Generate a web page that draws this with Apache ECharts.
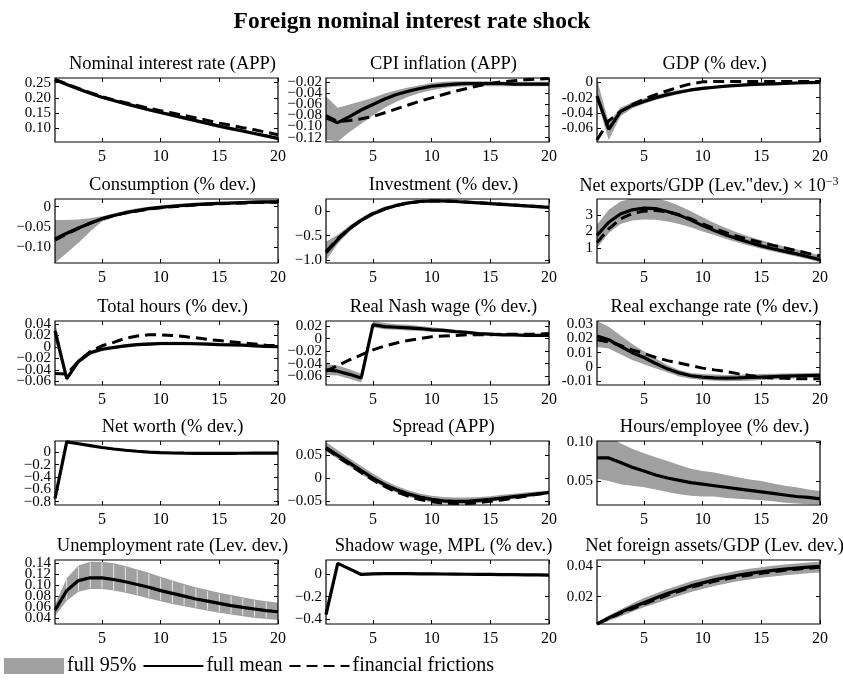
<!DOCTYPE html>
<html><head><meta charset="utf-8">
<script src="https://cdn.jsdelivr.net/npm/echarts@6/dist/echarts.min.js"></script>
<style>html,body{margin:0;padding:0;background:#fff}#chart{width:843px;height:681px}</style>
</head><body><div id="chart"></div>
<script>
// Horizon (quarters)
const periods = [1,2,3,4,5,6,7,8,9,10,11,12,13,14,15,16,17,18,19,20];
const xTicks = [5,10,15,20];

// Nominal interest rate (APP)
const nomRateMean = [0.260,0.244,0.229,0.215,0.202,0.191,0.181,0.171,0.161,0.152,0.143,0.134,0.125,0.116,0.107,0.099,0.091,0.083,0.075,0.067];
const nomRateFF   = [0.260,0.245,0.231,0.217,0.204,0.193,0.184,0.175,0.166,0.158,0.150,0.142,0.134,0.126,0.117,0.110,0.102,0.095,0.087,0.079];
const nomRateLo   = [0.257,0.240,0.224,0.210,0.197,0.186,0.175,0.165,0.155,0.146,0.137,0.128,0.119,0.110,0.101,0.093,0.085,0.077,0.069,0.061];
const nomRateHi   = [0.263,0.247,0.232,0.218,0.205,0.194,0.184,0.174,0.164,0.155,0.146,0.137,0.128,0.119,0.110,0.102,0.094,0.086,0.078,0.071];
const nomRateTicks = [0.10,0.15,0.20,0.25];

// CPI inflation (APP)
const cpiMean = [-0.084,-0.093,-0.082,-0.070,-0.060,-0.050,-0.042,-0.036,-0.031,-0.027,-0.025,-0.023,-0.022,-0.022,-0.022,-0.022,-0.023,-0.023,-0.023,-0.023];
const cpiFF   = [-0.080,-0.091,-0.089,-0.086,-0.082,-0.075,-0.068,-0.061,-0.054,-0.048,-0.042,-0.036,-0.031,-0.026,-0.022,-0.019,-0.017,-0.015,-0.014,-0.013];
const cpiLo   = [-0.124,-0.127,-0.110,-0.095,-0.080,-0.066,-0.055,-0.046,-0.039,-0.034,-0.030,-0.028,-0.027,-0.027,-0.027,-0.027,-0.027,-0.027,-0.027,-0.027];
const cpiHi   = [-0.045,-0.066,-0.060,-0.054,-0.048,-0.040,-0.034,-0.029,-0.025,-0.021,-0.019,-0.018,-0.018,-0.018,-0.018,-0.019,-0.019,-0.019,-0.019,-0.019];
const cpiTicks = [-0.12,-0.10,-0.08,-0.06,-0.04,-0.02];

// GDP (% dev.)
const gdpMean = [-0.018,-0.061,-0.038,-0.030,-0.025,-0.020,-0.016,-0.013,-0.010,-0.008,-0.0065,-0.005,-0.004,-0.003,-0.0025,-0.002,-0.0015,-0.001,-0.0006,-0.0003];
const gdpFF   = [-0.075,-0.050,-0.038,-0.029,-0.022,-0.016,-0.011,-0.006,-0.002,0.0005,0.001,0.001,0.001,0.001,0.001,0.001,0.001,0.001,0.001,0.001];
const gdpLo   = [-0.024,-0.075,-0.044,-0.034,-0.028,-0.023,-0.019,-0.015,-0.012,-0.010,-0.008,-0.0065,-0.0052,-0.0042,-0.0035,-0.0029,-0.0024,-0.002,-0.0016,-0.0013];
const gdpHi   = [0.004,-0.052,-0.033,-0.026,-0.021,-0.017,-0.013,-0.010,-0.008,-0.006,-0.0048,-0.0036,-0.0027,-0.002,-0.0015,-0.001,-0.0006,-0.0003,0.0,0.0003];
const gdpTicks = [-0.06,-0.04,-0.02,0];

// Consumption (% dev.)
const consMean = [-0.080,-0.066,-0.053,-0.041,-0.030,-0.022,-0.015,-0.010,-0.005,-0.002,0.001,0.003,0.005,0.007,0.008,0.009,0.010,0.011,0.012,0.012];
const consFF   = [-0.083,-0.068,-0.054,-0.041,-0.030,-0.022,-0.016,-0.011,-0.006,-0.003,0.000,0.002,0.004,0.006,0.007,0.008,0.009,0.010,0.011,0.011];
const consLo   = [-0.140,-0.115,-0.090,-0.062,-0.037,-0.027,-0.019,-0.013,-0.008,-0.005,-0.002,0.000,0.002,0.003,0.004,0.005,0.006,0.007,0.007,0.008];
const consHi   = [-0.033,-0.033,-0.032,-0.029,-0.024,-0.017,-0.010,-0.004,0.000,0.003,0.006,0.008,0.010,0.011,0.012,0.013,0.014,0.015,0.015,0.016];
const consTicks = [-0.10,-0.05,0];

// Investment (% dev.)
const invMean = [-0.84,-0.58,-0.36,-0.19,-0.06,0.04,0.11,0.16,0.19,0.20,0.20,0.19,0.175,0.16,0.145,0.13,0.115,0.10,0.085,0.07];
const invFF   = [-0.82,-0.56,-0.35,-0.18,-0.05,0.04,0.11,0.16,0.19,0.20,0.20,0.195,0.18,0.165,0.15,0.135,0.12,0.105,0.09,0.075];
const invLo   = [-1.00,-0.66,-0.41,-0.23,-0.10,0.00,0.08,0.13,0.16,0.17,0.17,0.165,0.15,0.14,0.125,0.11,0.095,0.08,0.065,0.05];
const invHi   = [-0.62,-0.48,-0.30,-0.14,-0.01,0.09,0.15,0.20,0.22,0.23,0.225,0.215,0.20,0.185,0.17,0.155,0.14,0.125,0.11,0.095];
const invTicks = [-1.0,-0.5,0];

// Net exports/GDP (level dev., x 10^-3)
const nxMean = [1.76,2.55,3.05,3.30,3.40,3.37,3.20,2.98,2.68,2.35,2.05,1.78,1.55,1.33,1.13,0.96,0.80,0.65,0.48,0.30];
const nxFF   = [1.33,2.15,2.75,3.08,3.22,3.26,3.18,3.00,2.75,2.45,2.17,1.92,1.70,1.50,1.33,1.16,1.00,0.84,0.68,0.53];
const nxLo   = [1.00,1.90,2.45,2.65,2.72,2.70,2.60,2.45,2.25,2.00,1.78,1.55,1.34,1.14,0.95,0.79,0.64,0.49,0.33,0.15];
const nxHi   = [2.40,3.30,3.80,4.00,4.05,4.00,3.82,3.55,3.22,2.85,2.50,2.20,1.92,1.68,1.47,1.28,1.10,0.93,0.75,0.55];
const nxTicks = [1,2,3];

// Total hours (% dev.)
const hoursMean = [0.028,-0.055,-0.025,-0.010,-0.004,-0.001,0.002,0.004,0.005,0.006,0.006,0.006,0.0055,0.005,0.004,0.0035,0.003,0.002,0.001,0.0005];
const hoursFF   = [-0.046,-0.047,-0.025,-0.008,0.002,0.008,0.015,0.019,0.021,0.021,0.020,0.018,0.016,0.013,0.011,0.009,0.007,0.005,0.003,0.002];
const hoursLo   = [0.012,-0.060,-0.029,-0.014,-0.007,-0.004,-0.001,0.001,0.002,0.003,0.003,0.003,0.003,0.0025,0.002,0.0015,0.001,0.0,-0.001,-0.0015];
const hoursHi   = [0.045,-0.050,-0.021,-0.006,-0.001,0.002,0.005,0.007,0.008,0.009,0.009,0.009,0.008,0.0075,0.007,0.006,0.005,0.004,0.003,0.0025];
const hoursTicks = [-0.06,-0.04,-0.02,0,0.02,0.04];

// Real Nash wage (% dev.)
const wageMean = [-0.050,-0.052,-0.057,-0.063,0.022,0.019,0.018,0.017,0.016,0.014,0.013,0.011,0.010,0.008,0.007,0.006,0.006,0.005,0.005,0.005];
const wageFF   = [-0.052,-0.043,-0.034,-0.026,-0.018,-0.012,-0.007,-0.003,0.000,0.003,0.004,0.005,0.006,0.006,0.006,0.007,0.007,0.007,0.007,0.008];
const wageLo   = [-0.058,-0.059,-0.064,-0.070,0.018,0.015,0.014,0.013,0.012,0.011,0.010,0.009,0.008,0.006,0.005,0.004,0.004,0.003,0.003,0.003];
const wageHi   = [-0.040,-0.043,-0.049,-0.056,0.028,0.025,0.023,0.022,0.020,0.018,0.016,0.014,0.012,0.010,0.009,0.008,0.008,0.007,0.007,0.007];
const wageTicks = [-0.06,-0.04,-0.02,0,0.02];

// Real exchange rate (% dev.)
const rerMean = [0.0215,0.019,0.0145,0.010,0.0067,0.0025,-0.0012,-0.0040,-0.0060,-0.0069,-0.0074,-0.0076,-0.0075,-0.0072,-0.0069,-0.0066,-0.0063,-0.0060,-0.0058,-0.0057];
const rerFF   = [0.019,0.0175,0.015,0.012,0.0095,0.0068,0.0045,0.0029,0.001,-0.0007,-0.0019,-0.003,-0.0045,-0.0058,-0.007,-0.0075,-0.0078,-0.008,-0.0081,-0.0081];
const rerLo   = [0.014,0.013,0.009,0.005,0.002,-0.001,-0.0035,-0.0065,-0.008,-0.009,-0.0095,-0.0098,-0.0097,-0.0094,-0.009,-0.0086,-0.0082,-0.0078,-0.0075,-0.0072];
const rerHi   = [0.032,0.028,0.022,0.016,0.011,0.006,0.0015,-0.002,-0.004,-0.0048,-0.0052,-0.0054,-0.0053,-0.005,-0.0048,-0.0046,-0.0044,-0.0042,-0.004,-0.0039];
const rerTicks = [-0.01,0,0.01,0.02,0.03];

// Net worth (% dev.)
const nwMean = [-0.75,0.17,0.14,0.11,0.08,0.055,0.035,0.018,0.005,-0.005,-0.010,-0.013,-0.015,-0.016,-0.016,-0.015,-0.014,-0.013,-0.012,-0.011];
const nwLo   = [-0.76,0.16,0.13,0.10,0.07,0.046,0.027,0.011,-0.002,-0.011,-0.016,-0.019,-0.021,-0.022,-0.022,-0.021,-0.020,-0.019,-0.018,-0.017];
const nwHi   = [-0.74,0.18,0.15,0.12,0.09,0.064,0.043,0.025,0.012,0.001,-0.004,-0.007,-0.009,-0.010,-0.010,-0.009,-0.008,-0.007,-0.006,-0.005];
const nwTicks = [-0.8,-0.6,-0.4,-0.2,0];

// Spread (APP)
const sprMean = [0.066,0.049,0.033,0.016,0.000,-0.014,-0.025,-0.034,-0.041,-0.046,-0.049,-0.050,-0.050,-0.048,-0.046,-0.043,-0.040,-0.037,-0.034,-0.031];
const sprFF   = [0.064,0.046,0.029,0.012,-0.004,-0.018,-0.030,-0.039,-0.046,-0.051,-0.054,-0.055,-0.055,-0.053,-0.050,-0.047,-0.043,-0.039,-0.035,-0.032];
const sprLo   = [0.058,0.041,0.025,0.008,-0.007,-0.020,-0.031,-0.040,-0.047,-0.052,-0.055,-0.056,-0.056,-0.054,-0.051,-0.048,-0.045,-0.042,-0.038,-0.035];
const sprHi   = [0.078,0.060,0.043,0.026,0.010,-0.005,-0.017,-0.026,-0.033,-0.038,-0.041,-0.042,-0.042,-0.041,-0.039,-0.036,-0.034,-0.031,-0.029,-0.027];
const sprTicks = [-0.05,0,0.05];

// Hours/employee (% dev.)
const hpeMean = [0.080,0.080,0.074,0.068,0.063,0.058,0.054,0.051,0.048,0.046,0.044,0.042,0.040,0.038,0.036,0.034,0.032,0.030,0.029,0.027];
const hpeLo   = [0.053,0.050,0.046,0.044,0.042,0.039,0.036,0.033,0.031,0.030,0.030,0.028,0.027,0.026,0.025,0.024,0.022,0.021,0.020,0.020];
const hpeHi   = [0.110,0.108,0.099,0.092,0.086,0.081,0.076,0.071,0.066,0.063,0.061,0.058,0.055,0.052,0.050,0.047,0.044,0.042,0.039,0.037];
const hpeTicks = [0.05,0.10];

// Unemployment rate (level dev.)
const unMean = [0.055,0.090,0.108,0.113,0.113,0.110,0.106,0.101,0.096,0.090,0.085,0.080,0.075,0.071,0.067,0.063,0.060,0.057,0.054,0.052];
const unLo   = [0.045,0.072,0.088,0.093,0.093,0.090,0.086,0.081,0.076,0.071,0.066,0.062,0.058,0.054,0.050,0.047,0.044,0.041,0.039,0.037];
const unHi   = [0.065,0.112,0.135,0.142,0.142,0.139,0.134,0.128,0.122,0.115,0.108,0.102,0.096,0.091,0.086,0.082,0.078,0.074,0.071,0.068];
const unTicks = [0.04,0.06,0.08,0.10,0.12,0.14];

// Shadow wage, MPL (% dev.)
const swMean = [-0.36,0.10,0.05,0.00,0.005,0.008,0.008,0.007,0.006,0.005,0.004,0.003,0.002,0.001,0.000,-0.001,-0.002,-0.003,-0.004,-0.005];
const swLo   = [-0.37,0.09,0.04,-0.01,-0.005,-0.002,-0.002,-0.003,-0.004,-0.005,-0.006,-0.007,-0.008,-0.009,-0.010,-0.011,-0.012,-0.013,-0.014,-0.015];
const swHi   = [-0.35,0.11,0.06,0.01,0.015,0.018,0.018,0.017,0.016,0.015,0.014,0.013,0.012,0.011,0.010,0.009,0.008,0.007,0.006,0.005];
const swTicks = [-0.4,-0.2,0];

// Net foreign assets/GDP (level dev.)
const nfaMean = [0.002,0.006,0.0095,0.013,0.016,0.019,0.022,0.0245,0.027,0.029,0.031,0.0325,0.034,0.0352,0.0363,0.0372,0.038,0.0387,0.0393,0.0398];
const nfaFF   = [0.002,0.0055,0.009,0.012,0.015,0.018,0.021,0.0235,0.026,0.028,0.030,0.0315,0.033,0.0342,0.0353,0.0363,0.0372,0.038,0.0386,0.0392];
const nfaLo   = [0.001,0.004,0.007,0.010,0.013,0.0155,0.018,0.0205,0.023,0.025,0.027,0.0285,0.030,0.0312,0.0323,0.0332,0.034,0.0347,0.0353,0.0358];
const nfaHi   = [0.003,0.0075,0.0115,0.0155,0.019,0.022,0.025,0.0275,0.030,0.032,0.034,0.0355,0.037,0.0382,0.0393,0.0402,0.041,0.0417,0.0423,0.0428];
const nfaTicks = [0.02,0.04];

const MINUS = '\u2212';
const SERIF = '"Liberation Serif", "Times New Roman", serif';

const panels = [
  {title:'Nominal interest rate (APP)', mean:nomRateMean, ff:nomRateFF, lo:nomRateLo, hi:nomRateHi, ticks:nomRateTicks, min:0.055, max:0.265, dec:2, minus:MINUS},
  {title:'CPI inflation (APP)', mean:cpiMean, ff:cpiFF, lo:cpiLo, hi:cpiHi, ticks:cpiTicks, min:-0.128, max:-0.012, dec:2, minus:MINUS},
  {title:'GDP (% dev.)', mean:gdpMean, ff:gdpFF, lo:gdpLo, hi:gdpHi, ticks:gdpTicks, min:-0.0775, max:0.0055, dec:2, minus:'-'},
  {title:'Consumption (% dev.)', mean:consMean, ff:consFF, lo:consLo, hi:consHi, ticks:consTicks, min:-0.14, max:0.019, dec:2, minus:MINUS},
  {title:'Investment (% dev.)', mean:invMean, ff:invFF, lo:invLo, hi:invHi, ticks:invTicks, min:-1.05, max:0.24, dec:1, minus:MINUS},
  {title:'Net exports/GDP (Lev."dev.) \u00d7 10{sup|\u22123}', titleX:704, titleSize:18, mean:nxMean, ff:nxFF, lo:nxLo, hi:nxHi, ticks:nxTicks, min:0.1, max:3.95, dec:0, minus:MINUS},
  {title:'Total hours (% dev.)', mean:hoursMean, ff:hoursFF, lo:hoursLo, hi:hoursHi, ticks:hoursTicks, min:-0.066, max:0.045, dec:2, minus:MINUS},
  {title:'Real Nash wage (% dev.)', mean:wageMean, ff:wageFF, lo:wageLo, hi:wageHi, ticks:wageTicks, min:-0.074, max:0.028, dec:2, minus:MINUS},
  {title:'Real exchange rate (% dev.)', mean:rerMean, ff:rerFF, lo:rerLo, hi:rerHi, ticks:rerTicks, min:-0.0124, max:0.032, dec:2, minus:'-'},
  {title:'Net worth (% dev.)', mean:nwMean, ff:null, lo:nwLo, hi:nwHi, ticks:nwTicks, min:-0.855, max:0.185, dec:1, minus:MINUS},
  {title:'Spread (APP)', mean:sprMean, ff:sprFF, lo:sprLo, hi:sprHi, ticks:sprTicks, min:-0.058, max:0.08, dec:2, minus:MINUS},
  {title:'Hours/employee (% dev.)', mean:hpeMean, ff:null, lo:hpeLo, hi:hpeHi, ticks:hpeTicks, min:0.019, max:0.102, dec:2, minus:MINUS},
  {title:'Unemployment rate (Lev. dev.)', mean:unMean, ff:null, lo:unLo, hi:unHi, ticks:unTicks, min:0.03, max:0.145, dec:2, minus:MINUS, striped:true},
  {title:'Shadow wage, MPL (% dev.)', mean:swMean, ff:null, lo:swLo, hi:swHi, ticks:swTicks, min:-0.445, max:0.13, dec:1, minus:MINUS},
  {title:'Net foreign assets/GDP (Lev. dev.)', mean:nfaMean, ff:nfaFF, lo:nfaLo, hi:nfaHi, ticks:nfaTicks, min:0.002, max:0.044, dec:2, minus:MINUS}
];

// Layout of the 5 x 3 panel grid
const colLeft = [55, 326, 597];
const rowTop = [78, 199, 321, 441, 560];
const plotW = 223, plotH = 64;
const BAND = '#a0a0a0';

const pairs = arr => periods.map((p, i) => [p, arr[i]]);
const fmt = (dec, minus) => v => {
  if (Math.abs(v) < 1e-12) return '0';
  return (v < 0 ? minus : '') + Math.abs(v).toFixed(dec);
};

// Shaded band: one polygon through the upper edge and back along the lower edge.
// The striped variant keeps the thin light seams between period patches.
const bandRenderer = (n, striped) => (params, api) => {
  if (params.dataIndexInside !== 0) return null;
  const upper = [], lower = [];
  for (let k = 0; k < n; k++) {
    upper.push(api.coord([api.value(0, k), api.value(2, k)]));
    lower.push(api.coord([api.value(0, k), api.value(1, k)]));
  }
  const cs = params.coordSys;
  const children = [{
    type: 'polygon',
    shape: {points: upper.concat(lower.slice().reverse())},
    style: {fill: BAND, stroke: null}
  }];
  if (striped) {
    for (let k = 1; k < n - 1; k++) {
      children.push({type: 'line', shape: {x1: upper[k][0], y1: upper[k][1] + 1, x2: lower[k][0], y2: lower[k][1] - 1},
        style: {stroke: '#e6e6e6', lineWidth: 1}});
    }
  }
  return {
    type: 'group', children,
    clipPath: {type: 'rect', shape: {x: cs.x, y: cs.y, width: cs.width, height: cs.height}}
  };
};

const grid = [], xAxis = [], yAxis = [], series = [], title = [];
title.push({
  text: 'Foreign nominal interest rate shock', left: 407, top: 5, textAlign: 'center',
  textStyle: {fontFamily: SERIF, fontWeight: 'bold', fontSize: 23.5, color: '#000'}
});

panels.forEach((p, i) => {
  const r = Math.floor(i / 3), c = i % 3;
  const left = colLeft[c], top = rowTop[r];
  grid.push({left, top, width: plotW, height: plotH, show: true, borderColor: '#000', borderWidth: 1.2, backgroundColor: 'transparent', z: 5});
  title.push({
    text: p.title, left: p.titleX || (left + plotW / 2 + 1), top: top - 28, textAlign: 'center',
    textStyle: {fontFamily: SERIF, fontWeight: 'normal', fontSize: p.titleSize || 18.5, color: '#000',
      rich: {sup: {fontFamily: SERIF, fontSize: 12, verticalAlign: 'top', padding: [0,0,9,0], color: '#000'}}}
  });
  const tickStyle = {show: true, inside: true, length: 4, lineStyle: {color: '#000', width: 1}};
  const noLine = {show: false, onZero: false};
  const xb = xAxis.length;
  xAxis.push({type: 'value', gridIndex: i, min: 1, max: 20, position: 'bottom',
    axisLine: noLine, splitLine: {show: false},
    axisTick: Object.assign({customValues: xTicks}, tickStyle),
    axisLabel: {customValues: xTicks, showMinLabel: true, showMaxLabel: true, fontFamily: SERIF, fontSize: 16, color: '#000', margin: 7}});
  xAxis.push({type: 'value', gridIndex: i, min: 1, max: 20, position: 'top',
    axisLine: noLine, splitLine: {show: false},
    axisTick: Object.assign({customValues: xTicks}, tickStyle), axisLabel: {show: false}});

  // The tick labels are packed tighter than their glyph height, so they are spread over
  // two coincident left axes (alternate ticks each) and every one of them stays drawn.
  const labelStyle = {showMinLabel: true, showMaxLabel: true, hideOverlap: false,
    formatter: fmt(p.dec, p.minus), fontFamily: SERIF, fontSize: 15, color: '#000', margin: 4};
  const evenTicks = p.ticks.filter((t, k) => k % 2 === 0);
  const oddTicks = p.ticks.filter((t, k) => k % 2 === 1);
  const yb = yAxis.length;
  yAxis.push({type: 'value', gridIndex: i, min: p.min, max: p.max, position: 'left',
    axisLine: noLine, splitLine: {show: false},
    axisTick: Object.assign({customValues: p.ticks}, tickStyle),
    axisLabel: Object.assign({customValues: evenTicks}, labelStyle)});
  yAxis.push({type: 'value', gridIndex: i, min: p.min, max: p.max, position: 'right',
    axisLine: noLine, splitLine: {show: false},
    axisTick: Object.assign({customValues: p.ticks}, tickStyle), axisLabel: {show: false}});
  if (oddTicks.length) {
    yAxis.push({type: 'value', gridIndex: i, min: p.min, max: p.max, position: 'left', offset: 0,
      axisLine: noLine, splitLine: {show: false}, axisTick: {show: false},
      axisLabel: Object.assign({customValues: oddTicks}, labelStyle)});
  }

  const common = {xAxisIndex: xb, yAxisIndex: yb, silent: true, animation: false};
  series.push(Object.assign({}, common, {
    type: 'custom', name: 'full 95%', z: 1,
    data: periods.map((x, k) => [x, p.lo[k], p.hi[k]]),
    encode: {x: 0, y: [1, 2]},
    itemStyle: {color: BAND},
    renderItem: bandRenderer(periods.length, !!p.striped)
  }));
  series.push(Object.assign({}, common, {type: 'line', symbol: 'none', name: 'full mean', data: pairs(p.mean),
    lineStyle: {color: '#000', width: 3.2}, itemStyle: {color: '#000'}, z: 3}));
  if (p.ff) {
    series.push(Object.assign({}, common, {type: 'line', symbol: 'none', name: 'financial frictions', data: pairs(p.ff),
      lineStyle: {color: '#000', width: 3, type: [11, 6]}, itemStyle: {color: '#000'}, z: 4}));
  }
});

const chart = echarts.init(document.getElementById('chart'), null, {renderer: 'canvas'});
chart.setOption({
  backgroundColor: '#fff',
  animation: false,
  title, grid, xAxis, yAxis, series,
  legend: {
    left: 4, top: 656, itemWidth: 60, itemHeight: 16, itemGap: 6, padding: 0,
    textStyle: {fontFamily: SERIF, fontSize: 20, color: '#000', padding: [0, 0, 0, -2]},
    data: [
      {name: 'full 95%', icon: 'rect', itemStyle: {color: BAND}},
      {name: 'full mean', itemStyle: {opacity: 0}},
      {name: 'financial frictions', itemStyle: {opacity: 0}}
    ]
  }
});
</script>
</body></html>
